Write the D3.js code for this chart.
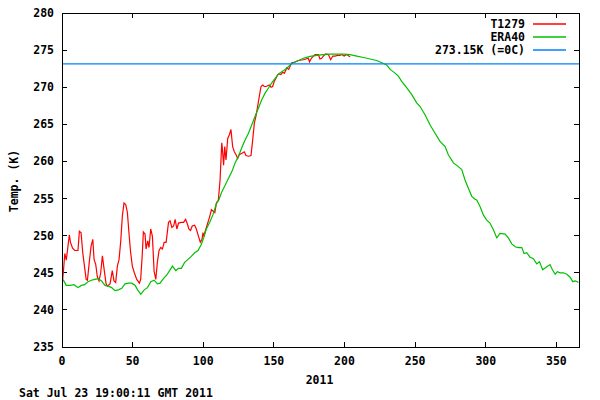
<!DOCTYPE html>
<html><head><meta charset="utf-8">
<script src="https://cdn.jsdelivr.net/npm/d3@7"></script>
<style>
body{margin:0;background:#fff;}
text{font-family:"DejaVu Sans Mono",monospace;font-weight:bold;font-size:11.5px;fill:#000;}
</style></head>
<body>
<svg id="c" width="600" height="400"></svg>
<script>
// T1279 (red) : day, temperature (K)
const t1279Days = [0,1,2,3,4,5.2,6,7.5,9,11.3,12.3,13.5,14.7,15.9,17.1,18,19.4,20.6,21.8,22.7,23.9,25,26.2,27.4,28.6,29.8,31.2,32.1,34,35.6,36.8,38,39.2,40.4,41.6,42.7,43.9,45.1,46.3,47.4,48.6,49.8,51.2,52.9,54.8,55.7,56.9,57.6,58.8,59.5,60.7,61.6,62.8,64,65.2,66.4,67.5,68.7,69.9,71.1,72.3,73.7,75.4,76.5,77.8,79,80.1,81.3,82.5,84.4,86.1,87.5,88.7,89.8,91,92.2,93.9,95.1,96.5,97.9,99.1,99.8,100.3,102.2,104.6,105.8,108.2,109.3,110.7,111.9,113.1,113.6,114.4,115.2,116.1,117.3,118.5,119.6,120.8,122,123.2,124.4,125.5,127.4,129.1,130.2,132.1,133.8,135,136.2,137.3,138.5,139.7,140.9,142.1,143.2,144.4,145.6,146.8,148,149.1,150.3,151.5,152.7,153.9,155,156.2,157.5,159.1,160.5,162.6,164.9,167.3,170.9,174.4,175.2,176.5,179.1,181.5,182.6,183.8,185,186.7,188.6,190.2,191.7,193.3,195,196.8,198,199.7,201.5,203,204];
const t1279Vals = [243.0,245.2,247.6,246.7,248.2,250.1,249.1,248.3,248.0,248.0,250.6,250.4,247.7,245.9,244.1,244.0,246.6,248.6,249.5,246.8,246.1,244.5,243.9,245.0,247.3,245.5,243.5,243.2,243.5,245.3,243.9,243.7,245.9,246.8,249.3,252.6,254.4,254.2,253.1,250.4,247.7,245.9,245.0,244.1,243.6,244.1,247.7,250.5,250.2,248.2,249.3,248.4,250.9,249.9,245.2,244.1,246.4,248.0,248.4,248.2,249.1,249.1,251.8,252.0,251.1,251.3,252.2,250.9,251.7,251.8,251.8,252.2,251.6,250.9,250.7,251.3,251.4,250.9,250.0,249.1,249.5,250.4,249.9,251.1,252.6,253.5,253.1,254.4,254.8,257.5,262.5,261.6,259.5,262.0,260.2,263.1,263.6,264.3,262.0,261.3,260.9,260.4,260.9,261.1,261.3,260.8,260.7,260.8,262.9,265.2,266.1,267.4,268.8,270.1,270.3,270.1,270.1,270.2,270.3,270.0,270.1,270.8,271.2,271.7,271.8,271.7,272.0,271.9,272.6,272.4,273.3,273.4,273.6,273.7,273.9,273.4,273.9,274.4,274.4,273.8,273.9,274.2,274.5,274.4,273.7,274.2,274.2,274.3,274.3,274.4,274.2,274.4,274.2,274.1];

// ERA40 (green) : day, temperature (K)
const era40Days = [0,1,3,5.7,8.5,11.3,13.7,16,18.4,20.8,23.2,25.6,28,30.4,32.8,35.1,37.5,39.9,42.3,44.6,47,49.4,51.8,53.5,55.8,58.2,60.5,62.9,65.2,67.5,69.4,71.8,74.2,76.5,78.2,80.6,82.5,84.5,86.8,89.2,91.5,93.9,96.3,98.6,100.3,102.2,104.6,107,109.3,111,113.1,115.5,117.8,120.2,122.5,124.9,127.2,129.6,132,134.3,136.7,139.1,141.4,143.8,146.2,148.5,150.9,153.3,155.6,158,160.4,162.7,165.1,167.5,170.9,175.6,180.3,185,189.8,194.5,199.2,203.9,208.7,213.4,218.1,222.8,226.4,229.9,232.3,235.8,238.1,240.5,244.1,247.6,251.1,253.5,257,260.6,264.1,267.6,271.2,273.5,277.1,280.6,283,285.3,287.7,290.1,292.4,293.6,296,298.3,300.7,303,305.4,307.8,310.1,313.7,316,318.4,320.8,323.1,325.5,327.1,329,331.4,333.7,336.1,338,340.3,343.2,345.5,347.2,349.1,350.7,352.6,355,357.4,359.7,361.6,363.2,364.9,365.5];
const era40Vals = [244.0,244.0,243.3,243.3,243.4,243.0,243.3,243.4,243.8,244.0,244.1,244.2,243.9,243.3,243.2,243.0,242.6,242.7,242.9,243.5,243.6,243.6,243.3,242.7,242.1,242.7,243.0,243.8,244.0,243.5,243.6,244.2,244.7,245.4,245.9,245.3,245.6,245.6,246.4,246.8,247.2,247.7,248.0,248.8,249.7,250.9,251.8,252.9,254.3,254.8,255.9,256.8,257.7,258.6,259.8,260.7,261.8,262.9,263.8,264.9,266.1,267.2,268.3,269.2,269.9,270.6,271.2,271.8,272.1,272.4,272.8,273.2,273.4,273.6,273.9,274.15,274.3,274.4,274.45,274.45,274.45,274.4,274.2,274.0,273.8,273.6,273.3,273.0,272.4,271.9,271.5,270.8,269.9,269.0,267.9,267.4,266.3,264.9,263.8,262.7,262.0,260.9,259.8,259.3,258.9,257.5,256.4,255.3,254.9,254.8,253.9,252.8,252.1,251.7,250.8,249.7,250.3,250.2,249.7,248.9,248.5,248.4,248.4,247.6,247.7,247.1,246.9,246.2,246.5,245.4,245.8,246.1,245.4,244.8,245.15,245.0,245.0,244.8,244.4,243.8,243.9,243.8,243.7];

const freezing = 273.15;
const xTicks = [0,50,100,150,200,250,300,350];
const yTicks = [235,240,245,250,255,260,265,270,275,280];
const legendLabels = ["T1279","ERA40","273.15K (=0C)"];
const colors = ["#ff0000","#00c000","#0080ff"];
const xTitle = "2011";
const yTitle = "Temp. (K)";
const stamp = "Sat Jul 23 19:00:11 GMT 2011";

const svg = d3.select("#c");
const L = 62, R = 579, T = 13, B = 347;
const x = d3.scaleLinear().domain([0,366]).range([L,R]);
const y = d3.scaleLinear().domain([235,280]).range([B,T]);

const ticksG = svg.append("g").attr("shape-rendering","crispEdges");
// inward ticks on all four sides
xTicks.forEach(v=>{
  ticksG.append("line").attr("x1",x(v)).attr("x2",x(v)).attr("y1",B).attr("y2",B-5).attr("stroke","#000");
  ticksG.append("line").attr("x1",x(v)).attr("x2",x(v)).attr("y1",T).attr("y2",T+5).attr("stroke","#000");
});
yTicks.forEach(v=>{
  ticksG.append("line").attr("x1",L).attr("x2",L+5).attr("y1",y(v)).attr("y2",y(v)).attr("stroke","#000");
  ticksG.append("line").attr("x1",R).attr("x2",R-5).attr("y1",y(v)).attr("y2",y(v)).attr("stroke","#000");
});
// tick labels
svg.append("g").selectAll("text").data(xTicks).join("text")
  .attr("x",d=>x(d)).attr("y",B+18).attr("text-anchor","middle").text(d=>d);
svg.append("g").selectAll("text").data(yTicks).join("text")
  .attr("x",L-8).attr("y",d=>y(d)+4).attr("text-anchor","end").text(d=>d);

// series
const line = d3.line().x(d=>x(d[0])).y(d=>y(d[1]));
svg.append("clipPath").attr("id","pc").append("rect")
  .attr("x",L).attr("y",T).attr("width",R-L).attr("height",B-T);
const plot = svg.append("g").attr("clip-path","url(#pc)");
plot.append("path").datum(t1279Days.map((d,i)=>[d,t1279Vals[i]]))
  .attr("d",line).attr("fill","none").attr("stroke",colors[0]).attr("stroke-width",1.2);
plot.append("path").datum(era40Days.map((d,i)=>[d,era40Vals[i]]))
  .attr("d",line).attr("fill","none").attr("stroke",colors[1]).attr("stroke-width",1.2);
plot.append("line").attr("x1",L).attr("x2",R).attr("y1",y(freezing)).attr("y2",y(freezing))
  .attr("stroke",colors[2]).attr("stroke-width",1.3);

// frame
svg.append("rect").attr("x",L).attr("y",T).attr("width",R-L).attr("height",B-T)
  .attr("fill","none").attr("stroke","#000").attr("stroke-width",1).attr("shape-rendering","crispEdges");

// legend
const lg = svg.append("g");
legendLabels.forEach((t,i)=>{
  const yy = 24 + i*13;
  lg.append("text").attr("x",525).attr("y",yy+4).attr("text-anchor","end").text(t);
  lg.append("line").attr("x1",533).attr("x2",566).attr("y1",yy).attr("y2",yy)
    .attr("stroke",colors[i]).attr("stroke-width",1.3);
});

// titles
svg.append("text").attr("x",(L+R)/2-1).attr("y",384).attr("text-anchor","middle").text(xTitle);
svg.append("text").attr("transform","translate(18,181) rotate(-90)").attr("text-anchor","middle").text(yTitle);
svg.append("text").attr("x",19).attr("y",397).text(stamp);
</script>
</body></html>
